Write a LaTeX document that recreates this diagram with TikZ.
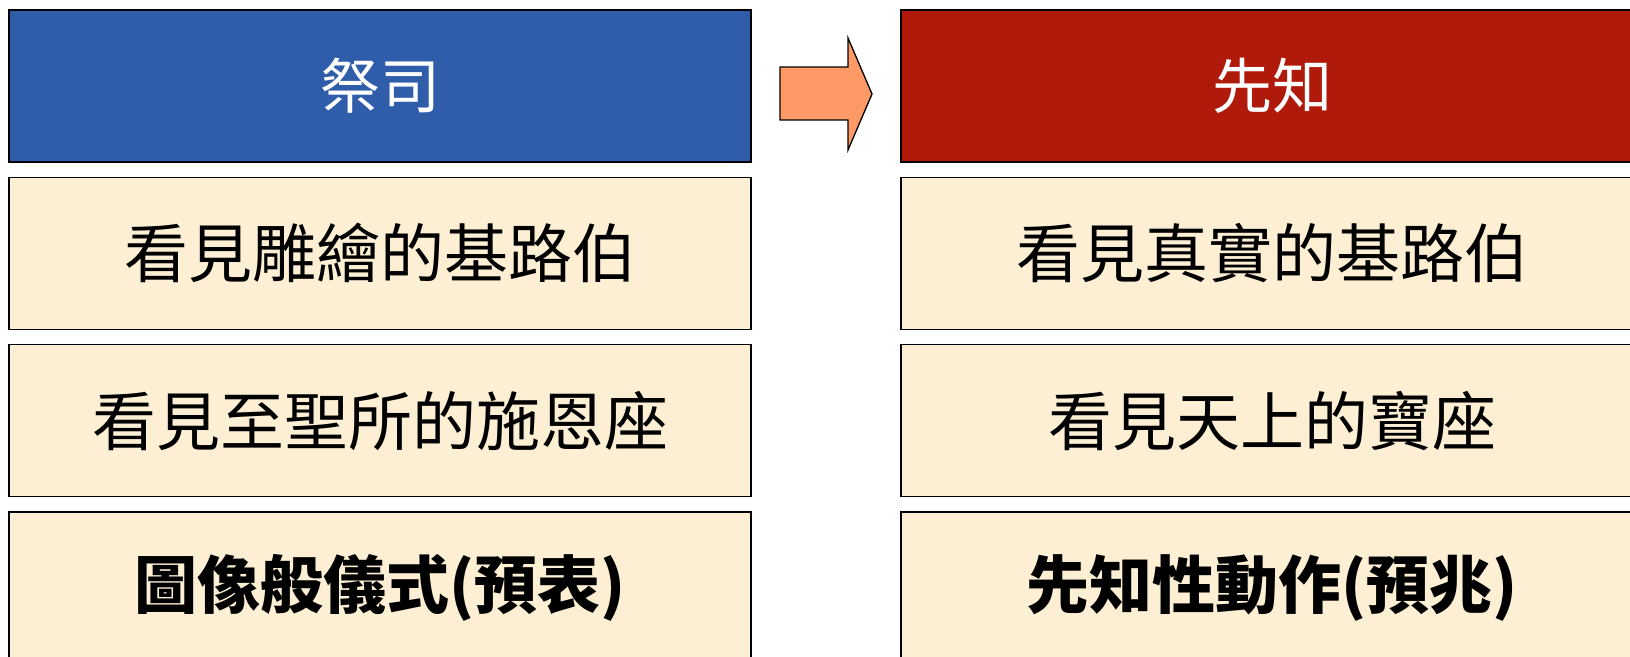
\documentclass[tikz,border=0pt]{standalone}
\usepackage{fontspec}
\newfontfamily\cjk{Noto Sans CJK TC}
\usetikzlibrary{positioning}

\definecolor{priestblue}{HTML}{2F5DAA}
\definecolor{prophetred}{HTML}{B01A0A}
\definecolor{parchment}{HTML}{FCEFD3}
\definecolor{arroworange}{HTML}{FF9966}

\tikzset{
  panel/.style={draw=black, line width=1.3pt, rectangle, minimum width=742pt, minimum height=152pt, inner sep=0pt},
  header/.style={panel, text=white, font=\cjk\fontsize{60}{62}\selectfont},
  row/.style={panel, fill=parchment, text=black, font=\cjk\fontsize{64}{66}\selectfont},
  boldrow/.style={row, font=\cjk\bfseries\fontsize{63}{65}\selectfont},
}

\begin{document}
\begin{tikzpicture}[node distance=14pt]
   \useasboundingbox[fill=white] (0,0) rectangle (1630pt,-656pt);

   % Priest column
   \node[header, fill=priestblue] (priest) at (380pt,-86pt) {祭司};
   \node[row] (p1) [below=of priest] {看見雕繪的基路伯};
   \node[row] (p2) [below=of p1] {看見至聖所的施恩座};
   \node[boldrow] (p3) [below=of p2] {圖像般儀式(預表)};

   % Prophet column
   \node[header, fill=prophetred] (prophet) at (1272pt,-86pt) {先知};
   \node[row] (q1) [below=of prophet] {看見真實的基路伯};
   \node[row] (q2) [below=of q1] {看見天上的寶座};
   \node[boldrow] (q3) [below=of q2] {先知性動作(預兆)};

   % The big arrow
   \draw[fill=arroworange, line width=1.3pt, line join=miter]
     (780pt,-67pt) -- (848pt,-67pt) -- (848pt,-38pt) -- (872pt,-94pt)
     -- (848pt,-150pt) -- (848pt,-120pt) -- (780pt,-120pt) -- cycle;
\end{tikzpicture}
\end{document}
